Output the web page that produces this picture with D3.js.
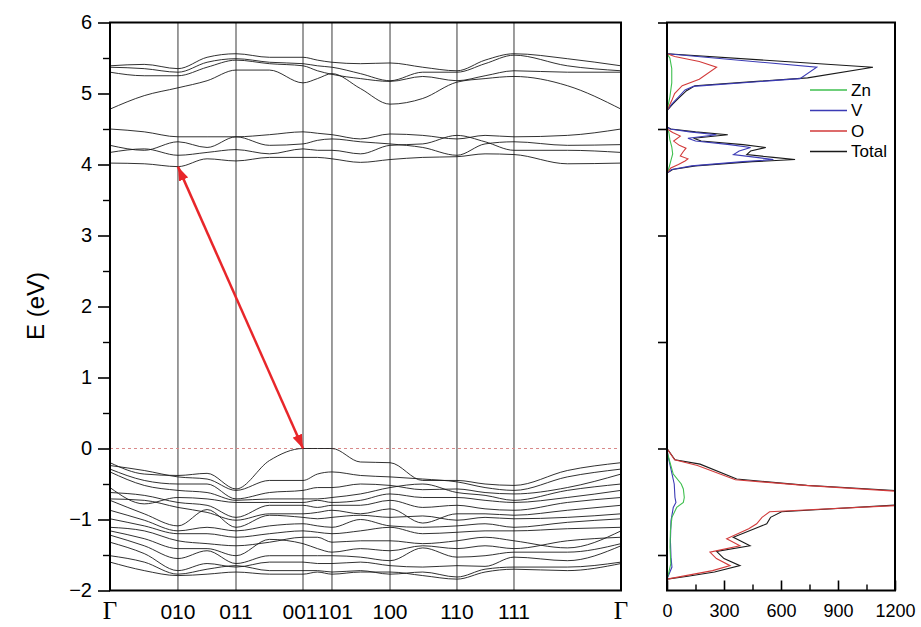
<!DOCTYPE html>
<html><head><meta charset="utf-8">
<script src="https://cdn.jsdelivr.net/npm/d3@7"></script>
<style>
body{margin:0;background:#fff;}
svg{display:block;font-family:"Liberation Sans",Arial,sans-serif;}
</style>
</head><body>
<svg id="chart" width="921" height="627"></svg>
<script>
// ---------- data ----------
const kLabels = ["Γ","010","011","001","101","100","110","111","Γ"];
const kSymPos = [0,0.133,0.2466,0.3777,0.4344,0.548,0.679,0.7906,1];
const kSample = [0,0.067,0.133,0.19,0.2466,0.312,0.3777,0.406,0.4344,0.49,0.548,0.612,0.679,0.734,0.7906,0.895,1];

const conductionBands = [
  [4.02,4.01,3.97,4.08,4.05,4.10,4.10,4.10,4.08,4.03,4.07,4.10,4.11,4.15,4.14,4.01,4.02],
  [4.17,4.22,4.13,4.17,4.21,4.15,4.22,4.20,4.20,4.15,4.27,4.29,4.41,4.32,4.20,4.20,4.17],
  [4.27,4.20,4.32,4.24,4.39,4.27,4.29,4.34,4.36,4.32,4.29,4.24,4.13,4.29,4.32,4.27,4.28],
  [4.50,4.46,4.39,4.39,4.39,4.42,4.46,4.44,4.42,4.36,4.43,4.41,4.36,4.41,4.39,4.41,4.50],
  [4.78,4.97,5.08,5.18,5.33,5.33,5.15,5.21,5.28,5.07,4.85,4.93,5.16,5.21,5.24,5.11,4.78],
  [5.30,5.25,5.25,5.37,5.47,5.42,5.39,5.32,5.27,5.21,5.17,5.24,5.18,5.25,5.32,5.30,5.30],
  [5.37,5.35,5.30,5.44,5.49,5.44,5.42,5.39,5.37,5.28,5.18,5.30,5.30,5.42,5.54,5.39,5.32],
  [5.39,5.41,5.35,5.51,5.56,5.51,5.51,5.47,5.44,5.42,5.43,5.37,5.32,5.47,5.56,5.49,5.39]
];

const valenceBands = [
  [-0.20,-0.36,-0.38,-0.35,-0.57,-0.17,0,0,0,-0.19,-0.20,-0.45,-0.45,-0.50,-0.52,-0.31,-0.20],
  [-0.24,-0.31,-0.40,-0.43,-0.59,-0.45,-0.45,-0.36,-0.33,-0.38,-0.40,-0.43,-0.47,-0.55,-0.59,-0.40,-0.29],
  [-0.29,-0.45,-0.50,-0.50,-0.71,-0.62,-0.59,-0.55,-0.55,-0.50,-0.52,-0.58,-0.57,-0.62,-0.64,-0.55,-0.36],
  [-0.33,-0.52,-0.59,-0.62,-0.73,-0.71,-0.71,-0.71,-0.69,-0.64,-0.55,-0.50,-0.62,-0.66,-0.73,-0.59,-0.50],
  [-0.55,-0.78,-0.69,-0.71,-0.76,-0.76,-0.76,-0.73,-0.76,-0.73,-0.64,-0.69,-0.69,-0.73,-0.76,-0.69,-0.59],
  [-0.62,-0.66,-0.76,-0.80,-0.97,-0.80,-0.80,-0.83,-0.80,-0.80,-0.73,-0.83,-0.80,-0.85,-0.87,-0.76,-0.69],
  [-0.71,-0.73,-0.83,-0.90,-1.01,-0.92,-0.92,-0.90,-0.87,-0.92,-0.85,-1.05,-0.92,-0.92,-0.94,-0.87,-0.80],
  [-0.73,-0.92,-1.09,-0.86,-1.11,-0.94,-0.97,-0.99,-0.97,-0.94,-0.97,-0.95,-1.01,-0.97,-0.99,-0.97,-0.92],
  [-0.87,-1.01,-1.16,-1.11,-1.16,-1.09,-1.06,-1.09,-1.11,-1.00,-1.09,-1.11,-1.09,-1.06,-1.11,-1.04,-0.99],
  [-0.99,-1.09,-1.20,-1.20,-1.25,-1.20,-1.16,-1.18,-1.20,-1.16,-1.11,-1.20,-1.18,-1.16,-1.16,-1.13,-1.11],
  [-1.11,-1.16,-1.30,-1.34,-1.37,-1.32,-1.25,-1.25,-1.32,-1.30,-1.30,-1.34,-1.30,-1.25,-1.30,-1.40,-1.16],
  [-1.16,-1.27,-1.41,-1.41,-1.51,-1.28,-1.34,-1.41,-1.46,-1.41,-1.44,-1.37,-1.41,-1.37,-1.41,-1.30,-1.25],
  [-1.22,-1.37,-1.55,-1.44,-1.62,-1.51,-1.51,-1.51,-1.51,-1.53,-1.58,-1.40,-1.53,-1.51,-1.46,-1.46,-1.34],
  [-1.32,-1.48,-1.72,-1.62,-1.67,-1.60,-1.60,-1.62,-1.62,-1.60,-1.65,-1.67,-1.65,-1.66,-1.53,-1.58,-1.37],
  [-1.51,-1.60,-1.77,-1.70,-1.65,-1.72,-1.72,-1.72,-1.74,-1.72,-1.77,-1.74,-1.81,-1.70,-1.67,-1.67,-1.60],
  [-1.60,-1.72,-1.79,-1.77,-1.74,-1.77,-1.77,-1.74,-1.77,-1.74,-1.74,-1.79,-1.84,-1.74,-1.70,-1.72,-1.62]
];

// arrow: from CBM (010) to VBM (001)
const arrowEnds = [[0.133, 3.97], [0.3777, 0.0]];

const energyTicks = [-2,-1,0,1,2,3,4,5,6];
const energyMinorTicks = [-1.5,-0.5,0.5,1.5,2.5,3.5,4.5,5.5];
const dosEnergyTicks = [-1.5,0,1.5,3,4.5,6];
const dosTicks = [0,300,600,900,1200];
const dosMinorTicks = [150,450,750,1050];

// DOS curves: [energy (eV), states]
const dosTotal = [
  [-1.84,0],[-1.80,110],[-1.74,250],[-1.65,384],[-1.55,300],[-1.45,261],[-1.37,437],[-1.25,349],[-1.11,480],[-1.06,525],[-0.97,545],[-0.89,603],[-0.79,1250],[-0.70,1900],[-0.60,1250],[-0.52,735],[-0.43,367],[-0.22,174],[-0.16,42],[0,0],
  [3.88,0],[3.93,30],[3.98,150],[4.04,450],[4.07,674],[4.10,560],[4.14,420],[4.19,440],[4.24,520],[4.28,400],[4.33,180],[4.37,140],[4.42,320],[4.46,150],[4.50,20],[4.53,0],
  [4.76,0],[4.85,30],[4.93,60],[5.04,103],[5.11,147],[5.22,740],[5.37,1084],[5.56,0]
];
const dosV = [
  [-1.84,0],[-1.67,26],[-1.53,21],[-1.30,18],[-1.02,21],[-0.83,33],[-0.76,47],[-0.69,42],[-0.50,38],[-0.28,20],[-0.10,5],[0,0],
  [3.88,0],[3.93,25],[3.98,130],[4.04,400],[4.07,560],[4.10,470],[4.14,350],[4.19,380],[4.24,440],[4.28,330],[4.33,150],[4.37,110],[4.42,260],[4.46,120],[4.50,15],[4.53,0],
  [4.76,0],[4.85,25],[4.95,60],[5.05,95],[5.10,139],[5.21,700],[5.37,788],[5.56,0]
];
const dosO = [
  [-1.84,0],[-1.78,120],[-1.72,240],[-1.65,332],[-1.55,260],[-1.46,226],[-1.37,384],[-1.27,314],[-1.13,430],[-1.06,472],[-0.97,500],[-0.89,540],[-0.80,1230],[-0.70,1880],[-0.61,1260],[-0.52,725],[-0.44,360],[-0.24,160],[-0.16,40],[0,0],
  [3.88,0],[3.95,20],[4.00,60],[4.05,95],[4.08,110],[4.12,70],[4.18,85],[4.23,100],[4.27,65],[4.33,35],[4.40,70],[4.45,30],[4.50,0],
  [4.76,0],[4.90,25],[5.00,40],[5.11,80],[5.20,170],[5.37,261],[5.45,170],[5.52,40],[5.56,0]
];
const dosZn = [
  [-1.84,0],[-1.74,10],[-1.62,20],[-1.39,16],[-1.16,18],[-0.97,26],[-0.83,51],[-0.76,86],[-0.69,91],[-0.57,86],[-0.50,75],[-0.36,33],[-0.19,15],[-0.07,3],[0,0],
  [3.88,0],[3.95,10],[4.05,20],[4.15,30],[4.25,25],[4.35,15],[4.45,10],[4.50,0],
  [4.76,0],[4.95,15],[5.15,25],[5.35,25],[5.50,15],[5.56,0]
];
const dosSeries = [
  {name:"Total", data:dosTotal, color:"#1a1a1a"},
  {name:"V", data:dosV, color:"#3b3bb5"},
  {name:"O", data:dosO, color:"#d23a3a"},
  {name:"Zn", data:dosZn, color:"#3fbf4f"}
];
const legendOrder = ["Zn","V","O","Total"];

// ---------- layout ----------
const P = {x0:110, x1:621, y0:22.5, y1:590.5};
const D = {x0:667, x1:895};

const svg = d3.select("#chart");
const y = d3.scaleLinear().domain([-2,6]).range([P.y1,P.y0]);
const x = d3.scaleLinear().domain([0,1]).range([P.x0,P.x1]);
const xd = d3.scaleLinear().domain([0,1200]).range([D.x0,D.x1]);

const defs = svg.append("defs");
defs.append("clipPath").attr("id","clipBand").append("rect")
  .attr("x",P.x0).attr("y",P.y0).attr("width",P.x1-P.x0).attr("height",P.y1-P.y0);
defs.append("clipPath").attr("id","clipDos").append("rect")
  .attr("x",D.x0).attr("y",P.y0).attr("width",D.x1-D.x0).attr("height",P.y1-P.y0);

// ---------- band panel ----------
const gB = svg.append("g");
gB.selectAll("line.sym").data(kSymPos.slice(1,-1)).join("line")
  .attr("x1",d=>x(d)).attr("x2",d=>x(d)).attr("y1",P.y0).attr("y2",P.y1)
  .attr("stroke","#3a3a3a").attr("stroke-width",1);

gB.append("line").attr("x1",P.x0).attr("x2",P.x1).attr("y1",y(0)).attr("y2",y(0))
  .attr("stroke","#d98a8a").attr("stroke-width",1).attr("stroke-dasharray","3,3");

const bandLine = d3.line().x((d,i)=>x(kSample[i])).y(d=>y(d)).curve(d3.curveMonotoneX);
gB.append("g").attr("clip-path","url(#clipBand)")
  .selectAll("path").data(conductionBands.concat(valenceBands)).join("path")
  .attr("d",bandLine).attr("fill","none").attr("stroke","#1a1a1a").attr("stroke-width",0.9);

// arrow
defs.append("marker").attr("id","arrowHead")
  .attr("viewBox","0 0 14 10").attr("refX",14).attr("refY",5)
  .attr("markerWidth",14).attr("markerHeight",10).attr("markerUnits","userSpaceOnUse")
  .attr("orient","auto-start-reverse")
  .append("path").attr("d","M0,0 L14,5 L0,10 Z").attr("fill","#e8262a");
gB.append("line")
  .attr("x1",x(arrowEnds[0][0])).attr("y1",y(arrowEnds[0][1]))
  .attr("x2",x(arrowEnds[1][0])).attr("y2",y(arrowEnds[1][1]))
  .attr("stroke","#e8262a").attr("stroke-width",2.5)
  .attr("marker-start","url(#arrowHead)").attr("marker-end","url(#arrowHead)");

// y axis
const yAxis = d3.axisLeft(y).tickValues(energyTicks).tickSize(12).tickSizeOuter(0).tickPadding(6)
  .tickFormat(d3.format("d"));
const gy = svg.append("g").attr("transform",`translate(${P.x0},0)`).call(yAxis);
gy.select(".domain").remove();
gy.selectAll("line").attr("stroke","#000").attr("stroke-width",1.6);
gy.selectAll("text").attr("font-size",20).attr("fill","#000")
  .attr("font-family","'Liberation Sans',Arial,sans-serif");
const gym = svg.append("g").attr("transform",`translate(${P.x0},0)`)
  .call(d3.axisLeft(y).tickValues(energyMinorTicks).tickSize(7).tickSizeOuter(0).tickFormat(""));
gym.select(".domain").remove();
gym.selectAll("line").attr("stroke","#000").attr("stroke-width",1.4);

// frame
svg.append("rect").attr("x",P.x0).attr("y",P.y0).attr("width",P.x1-P.x0).attr("height",P.y1-P.y0)
  .attr("fill","none").attr("stroke","#000").attr("stroke-width",2);

// k labels (001 and 101 nudged apart so they just touch, as in the original)
const labelNudge = {"001":-3, "101":3.5};
svg.append("g").selectAll("text").data(kLabels).join("text")
  .attr("x",(d,i)=>x(kSymPos[i]) + (labelNudge[d]||0)).attr("y",619)
  .attr("text-anchor","middle")
  .attr("font-family",d=>d==="Γ"?"'Liberation Serif','Times New Roman',serif":"'Liberation Sans',Arial,sans-serif")
  .attr("font-size",d=>d==="Γ"?25:21)
  .attr("fill","#000")
  .text(d=>d);

// axis title
svg.append("text").attr("transform","translate(44,306) rotate(-90)")
  .attr("text-anchor","middle").attr("font-size",24).attr("fill","#000").text("E (eV)");

// ---------- DOS panel ----------
const dosLine = d3.line().x(d=>xd(d[1])).y(d=>y(d[0]));
svg.append("g").attr("clip-path","url(#clipDos)")
  .selectAll("path").data(dosSeries).join("path")
  .attr("d",d=>dosLine(d.data)).attr("fill","none")
  .attr("stroke",d=>d.color).attr("stroke-width",1.1);

svg.append("rect").attr("x",D.x0).attr("y",P.y0).attr("width",D.x1-D.x0).attr("height",P.y1-P.y0)
  .attr("fill","none").attr("stroke","#000").attr("stroke-width",2);

const gdy = svg.append("g").attr("transform",`translate(${D.x0},0)`)
  .call(d3.axisLeft(y).tickValues(dosEnergyTicks).tickSize(9).tickSizeOuter(0).tickFormat(""));
gdy.select(".domain").remove();
gdy.selectAll("line").attr("stroke","#000").attr("stroke-width",1.6);

const gdx = svg.append("g").attr("transform",`translate(0,${P.y1})`)
  .call(d3.axisBottom(xd).tickValues(dosTicks).tickSize(-10).tickSizeOuter(0).tickPadding(14).tickFormat(d3.format("d")));
gdx.select(".domain").remove();
gdx.selectAll("line").attr("stroke","#000").attr("stroke-width",1.6);
gdx.selectAll("text").attr("font-size",18).attr("fill","#000")
  .attr("font-family","'Liberation Sans',Arial,sans-serif");
const gdxm = svg.append("g").attr("transform",`translate(0,${P.y1})`)
  .call(d3.axisBottom(xd).tickValues(dosMinorTicks).tickSize(-6).tickSizeOuter(0).tickFormat(""));
gdxm.select(".domain").remove();
gdxm.selectAll("line").attr("stroke","#000").attr("stroke-width",1.4);

// legend
const lg = svg.append("g");
legendOrder.forEach((name,i)=>{
  const s = dosSeries.find(d=>d.name===name);
  const yy = 90 + i*20.5;
  lg.append("line").attr("x1",810).attr("x2",847).attr("y1",yy).attr("y2",yy)
    .attr("stroke",s.color).attr("stroke-width",1.3);
  lg.append("text").attr("x",851).attr("y",yy).attr("dy","0.35em")
    .attr("font-size",17).attr("fill","#000").text(name);
});
</script>
</body></html>
